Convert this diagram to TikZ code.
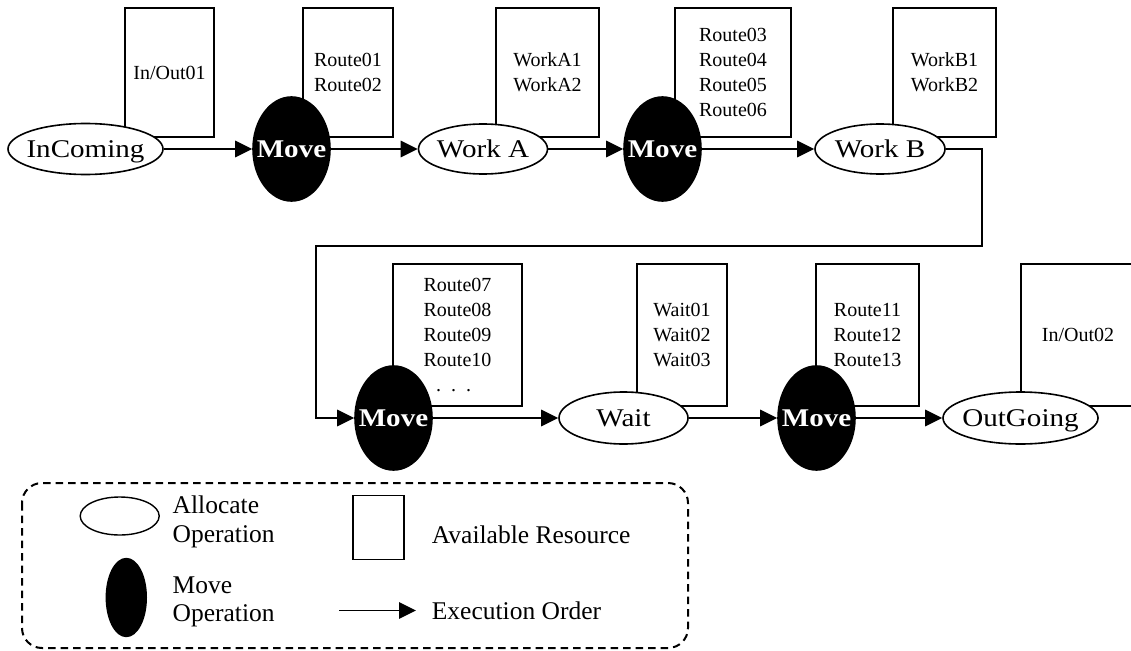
\documentclass[tikz,border=0pt]{standalone}
\usepackage{fontspec}
\setmainfont{Liberation Serif}
\usepackage{graphicx}
\usetikzlibrary{arrows.meta,shapes.geometric}

% fonts of the operations, the resource lists and the key
\newcommand\opfont{\fontsize{25.5}{28}\selectfont}
\newcommand\resfont{\fontsize{20}{25}\selectfont}
\newcommand\keyfont{\fontsize{25.5}{28.5}\selectfont}
% operation names are set a little wide and take no room in the ellipse
\newcommand\oplabel[1]{\makebox[0pt]{\scalebox{1.14}[1]{#1}}}

\begin{document}
\begin{tikzpicture}[x=1pt,y=-1pt,
  resbox/.style={draw, fill=white, line width=1.6pt, rectangle, inner sep=0pt,
                 align=center, font=\resfont},
  allocop/.style={ellipse, draw, fill=white, line width=1.6pt, inner sep=0pt,
                  text height=17pt, text depth=0pt, font=\opfont},
  moveop/.style={ellipse, draw, fill=black, text=white, line width=1.6pt, inner sep=0pt,
                 minimum width=77pt, minimum height=104pt,
                 text height=17.5pt, text depth=0pt, font=\opfont\bfseries},
  flow/.style={-{Triangle[length=17pt,width=16.5pt]}, line width=1.6pt},
  keytext/.style={anchor=west, inner sep=0pt, align=left, font=\keyfont},
]
\useasboundingbox (0,0) rectangle (1131,650);

% available resources of each step
\node[resbox, minimum width=89pt,  minimum height=129pt] (r1) at (169.5,72.5) {In/Out01};
\node[resbox, minimum width=90pt,  minimum height=129pt] (r2) at (348,72.5)   {Route01\\Route02};
\node[resbox, minimum width=103pt, minimum height=129pt] (r3) at (547.5,72.5) {WorkA1\\WorkA2};
\node[resbox, minimum width=116pt, minimum height=129pt] (r4) at (733,72.5)   {Route03\\Route04\\Route05\\Route06};
\node[resbox, minimum width=103pt, minimum height=129pt] (r5) at (944.5,72.5) {WorkB1\\WorkB2};
\node[resbox, minimum width=129pt, minimum height=142pt] (r6) at (457.5,335)  {Route07\\Route08\\Route09\\Route10\\.\hspace{10pt}.\hspace{10pt}.\hspace*{8pt}};
\node[resbox, minimum width=90pt,  minimum height=142pt] (r7) at (682,335)    {Wait01\\Wait02\\Wait03};
\node[resbox, minimum width=103pt, minimum height=142pt] (r8) at (867.5,335)  {Route11\\Route12\\Route13};
\node[resbox, minimum width=114pt, minimum height=142pt] (r9) at (1078,335)   {In/Out02};

% operations
\node[allocop, minimum width=155pt, minimum height=51pt] (inc)  at (85.5,149)  {\oplabel{InComing}};
\node[moveop] (mv1) at (291.5,149) {\oplabel{Move}};
\node[allocop, minimum width=129pt, minimum height=50pt] (wka)  at (483,149)   {\oplabel{Work A}};
\node[moveop] (mv2) at (662.5,149) {\oplabel{Move}};
\node[allocop, minimum width=130pt, minimum height=50pt] (wkb)  at (880,149)   {\oplabel{Work B}};
\node[moveop] (mv3) at (393.5,418) {\oplabel{Move}};
\node[allocop, minimum width=129pt, minimum height=52pt] (wait) at (623.5,418) {\oplabel{Wait}};
\node[moveop] (mv4) at (816.5,418) {\oplabel{Move}};
\node[allocop, minimum width=155pt, minimum height=52pt] (out)  at (1020.5,418) {\oplabel{OutGoing}};

% execution order
\coordinate (bendR) at (982,246);
\coordinate (bendL) at (316,246);
\draw[flow] (inc.east) -- (mv1.west);
\draw[flow] (mv1.east) -- (wka.west);
\draw[flow] (wka.east) -- (mv2.west);
\draw[flow] (mv2.east) -- (wkb.west);
\draw[flow] (wkb.east) -| (bendR) -- (bendL) |- (mv3.west);
\draw[flow] (mv3.east) -- (wait.west);
\draw[flow] (wait.east) -- (mv4.west);
\draw[flow] (mv4.east) -- (out.west);

% key
\draw[dash pattern=on 7.5pt off 5pt, line width=2pt, rounded corners=20pt]
  (22,483) rectangle (688,648);
\node[ellipse, draw, fill=white, line width=1.4pt, inner sep=0pt,
      minimum width=79pt, minimum height=38pt] (kalloc) at (119.7,516) {};
\node[keytext] (kalloctext) at (172.5,522) {Allocate\\Operation};
\node[ellipse, draw, fill=black, line width=1.4pt, inner sep=0pt,
      minimum width=40pt, minimum height=78pt] (kmove) at (126.3,597.5) {};
\node[keytext] (kmovetext) at (172.5,602) {Move\\Operation};
\node[rectangle, draw, line width=1.4pt, inner sep=0pt,
      minimum width=51pt, minimum height=64pt] (kres) at (378.4,527.2) {};
\node[keytext] (krestext) at (431.7,534.5) {Available Resource};
\coordinate (karrowA) at (339.3,610.5);
\coordinate (karrowB) at (416,610.5);
\draw[flow] (karrowA) -- (karrowB);
\node[keytext] (kflowtext) at (431.7,611) {Execution Order};
\end{tikzpicture}
\end{document}
